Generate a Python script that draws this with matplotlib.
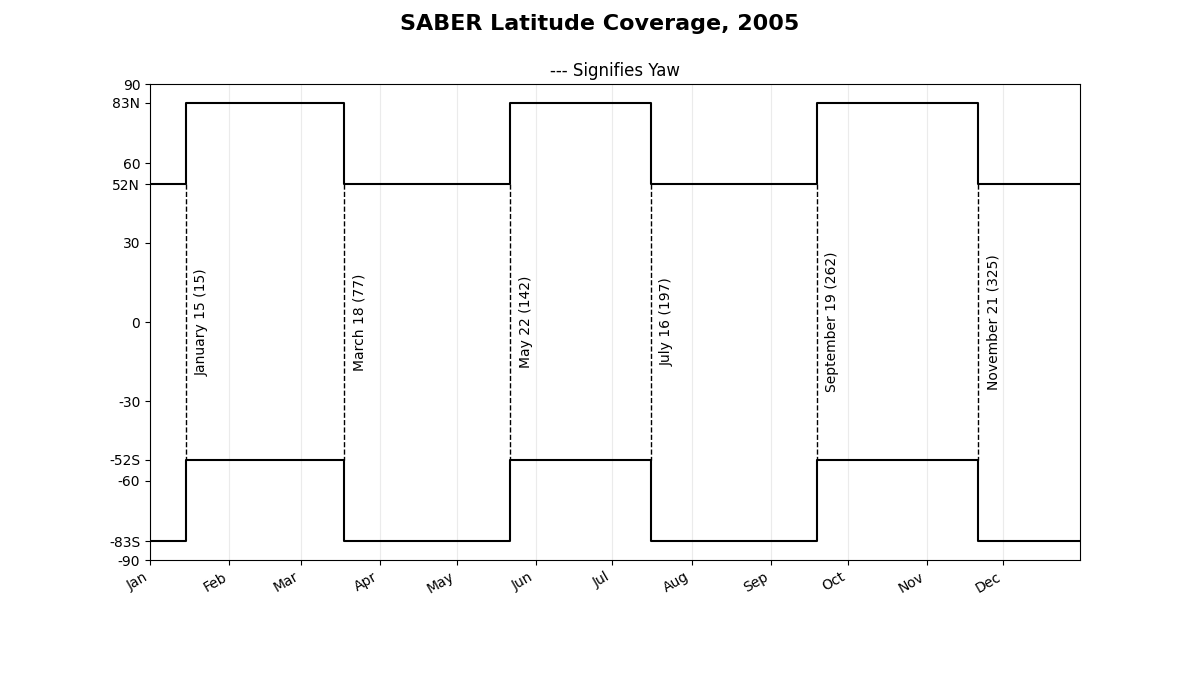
import matplotlib
matplotlib.use("Agg")
import matplotlib.pyplot as plt
import matplotlib.dates as mdates
import numpy as np
from datetime import datetime, timedelta

# Data
yaw_dates = ["2005-01-15", "2005-03-18", "2005-05-22", "2005-07-16", "2005-09-19", "2005-11-21"]
yaw_labels = ["January 15 (15)", "March 18 (77)", "May 22 (142)", "July 16 (197)",
              "September 19 (262)", "November 21 (325)"]
north_lat = [52, 83, 52, 83, 52, 83, 52]   # northern limit for each segment
south_lat = [-83, -52, -83, -52, -83, -52, -83]  # southern limit for each segment
ytick_vals = [-90, -83, -60, -52, -30, 0, 30, 52, 60, 83, 90]
ytick_labels = ["-90", "-83S", "-60", "-52S", "-30", "0", "30", "52N", "60", "83N", "90"]
year_start = "2005-01-01"
year_end = "2005-12-31"

start = datetime.fromisoformat(year_start)
end = datetime.fromisoformat(year_end)
yaws = [datetime.fromisoformat(d) for d in yaw_dates]

edges = [start] + yaws + [end]

fig, ax = plt.subplots(figsize=(12, 7), dpi=100)

# step lines
xs = edges
ax.step(xs, north_lat + [north_lat[-1]], where="post", color="black", lw=1.5)
ax.step(xs, south_lat + [south_lat[-1]], where="post", color="black", lw=1.5)

for d, lab in zip(yaws, yaw_labels):
    ax.plot([d, d], [52, -52], color="black", ls="--", lw=1)
    ax.text(d + timedelta(days=3.3), 0, lab, rotation=90, ha="left", va="center", fontsize=10)

ax.set_xlim(start, end)
ax.set_ylim(-90, 90)
ax.set_yticks(ytick_vals)
ax.set_yticklabels(ytick_labels)
ax.xaxis.set_major_locator(mdates.MonthLocator())
ax.xaxis.set_major_formatter(mdates.DateFormatter("%b"))
ax.grid(axis="x", alpha=0.25)
ax.set_title("--- Signifies Yaw", fontsize=12)
fig.suptitle("SABER Latitude Coverage, 2005", fontsize=16, fontweight="bold")
fig.autofmt_xdate()

fig.savefig("out.png", dpi=100)
